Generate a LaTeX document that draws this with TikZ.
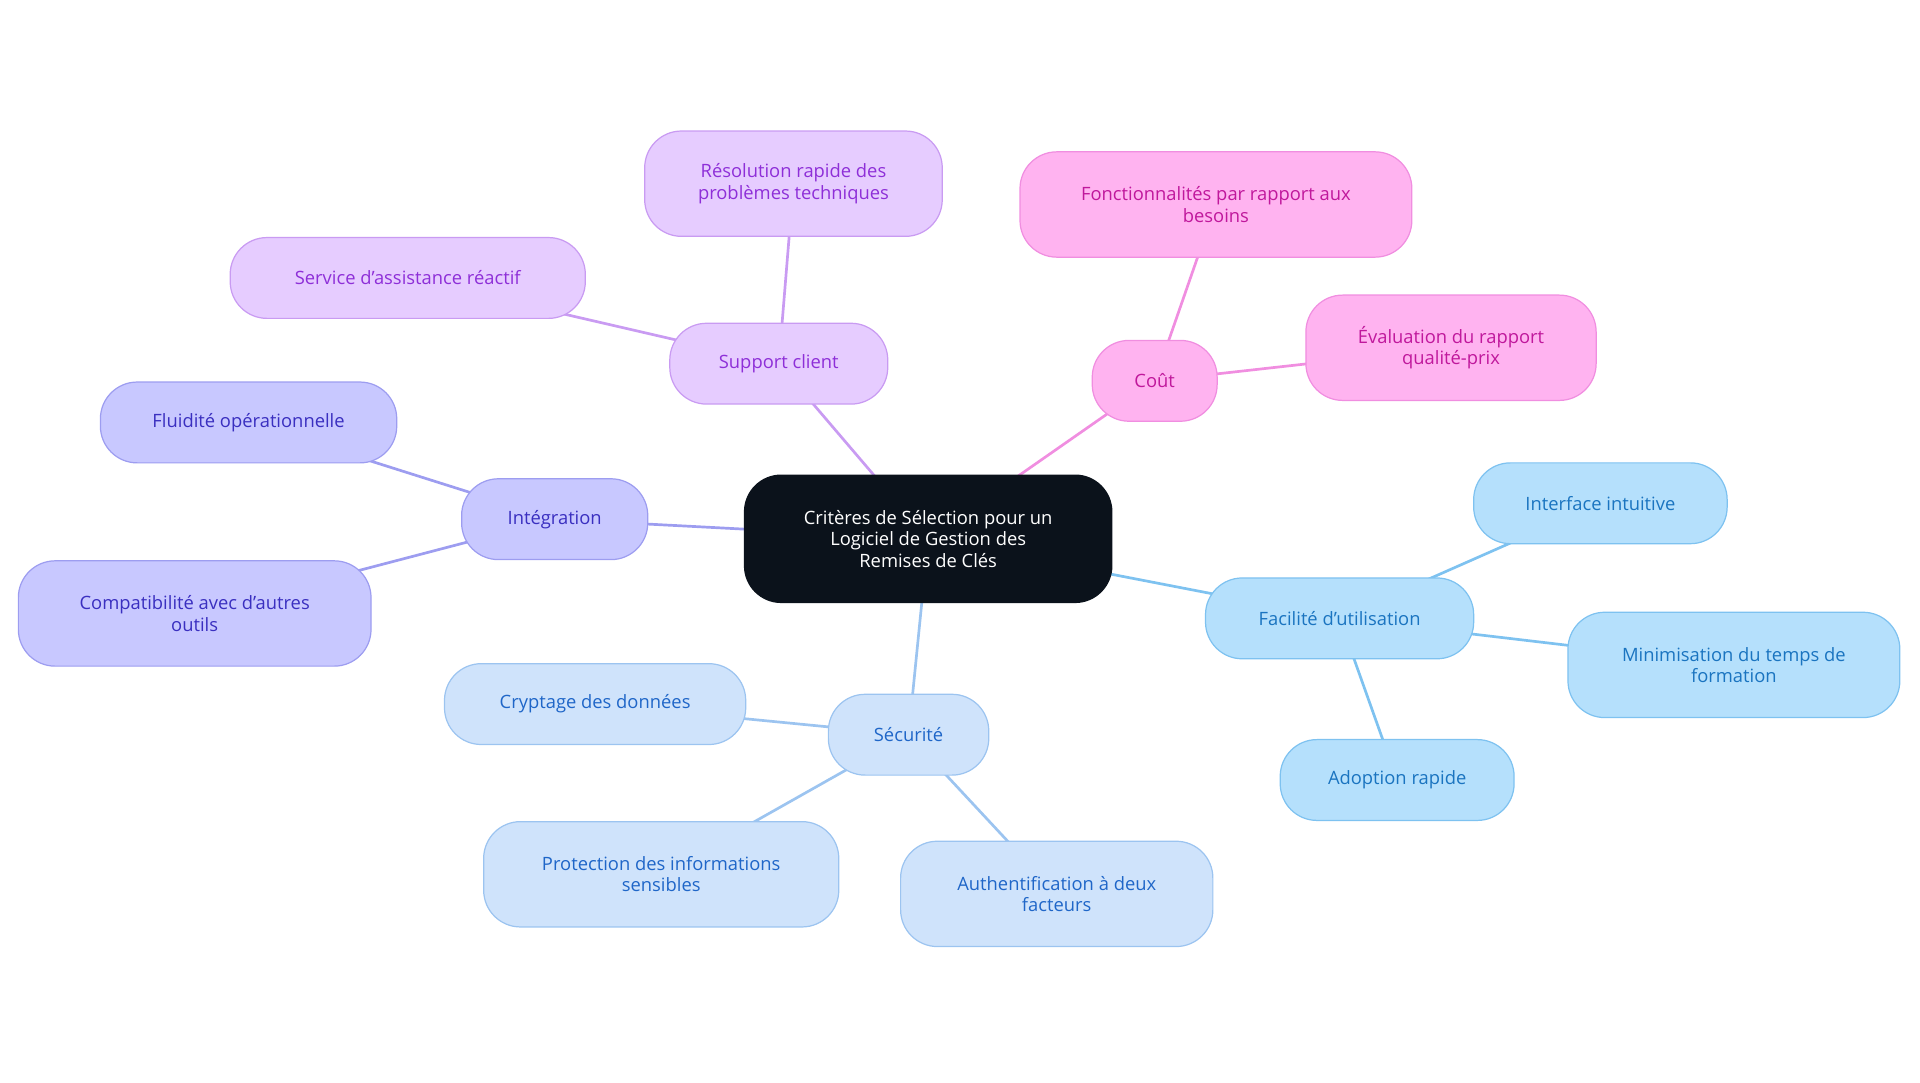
\documentclass[tikz,border=0pt]{standalone}
\usepackage{fontspec}
\setmainfont{Open Sans}
\usetikzlibrary{backgrounds}
\definecolor{pF}{HTML}{E6CCFF}\definecolor{pD}{HTML}{C99BF2}\definecolor{pT}{HTML}{8E2FD8}
\definecolor{kF}{HTML}{FFB3F0}\definecolor{kD}{HTML}{F08EE0}\definecolor{kT}{HTML}{C0189C}
\definecolor{iF}{HTML}{C8C8FF}\definecolor{iD}{HTML}{9D9DF0}\definecolor{iT}{HTML}{3A2FC0}
\definecolor{sF}{HTML}{CFE3FB}\definecolor{sD}{HTML}{9CC4F0}\definecolor{sT}{HTML}{1F66C8}
\definecolor{fF}{HTML}{B5E0FC}\definecolor{fD}{HTML}{7EC2F0}\definecolor{fT}{HTML}{1A74C0}
\definecolor{cF}{HTML}{0B121B}
\begin{document}
\begin{tikzpicture}[x=1pt,y=-1pt,
 box/.style={rounded corners=30pt,draw,line width=1pt,align=center,inner sep=0pt,font=\fontsize{15}{17.5}\selectfont},
 P/.style={box,fill=pF,draw=pD,text=pT},
 K/.style={box,fill=kF,draw=kD,text=kT},
 I/.style={box,fill=iF,draw=iD,text=iT},
 S/.style={box,fill=sF,draw=sD,text=sT},
 F/.style={box,fill=fF,draw=fD,text=fT},
 e/.style={line width=2.2pt}]
\useasboundingbox (0,0) rectangle (1568,884);
\node[box,fill=cF,draw=cF,text=white,minimum width=300pt,minimum height=104pt] (c) at (758,440) {Critères de Sélection pour un\\Logiciel de Gestion des\\Remises de Clés};
\node[P,minimum width=178pt,minimum height=66pt] (sc) at (636,297) {Support client};
\node[P,minimum width=243pt,minimum height=86pt] (rr) at (648,150) {Résolution rapide des\\problèmes techniques};
\node[P,minimum width=290pt,minimum height=66pt] (sa) at (333,227) {Service d'assistance réactif};
\node[K,minimum width=102pt,minimum height=66pt] (co) at (943,311) {Coût};
\node[K,minimum width=320pt,minimum height=86pt] (fo) at (993,167) {Fonctionnalités par rapport aux\\besoins};
\node[K,minimum width=237pt,minimum height=86pt] (ev) at (1185,284) {Évaluation du rapport\\qualité-prix};
\node[I,minimum width=152pt,minimum height=66pt] (in) at (453,424) {Intégration};
\node[I,minimum width=242pt,minimum height=66pt] (fl) at (203,345) {Fluidité opérationnelle};
\node[I,minimum width=288pt,minimum height=86pt] (cp) at (159,501) {Compatibilité avec d'autres\\outils};
\node[S,minimum width=131pt,minimum height=66pt] (se) at (742,600) {Sécurité};
\node[S,minimum width=246pt,minimum height=66pt] (cr) at (486,575) {Cryptage des données};
\node[S,minimum width=290pt,minimum height=86pt] (pr) at (540,714) {Protection des informations\\sensibles};
\node[S,minimum width=255pt,minimum height=86pt] (au) at (863,730) {Authentification à deux\\facteurs};
\node[F,minimum width=219pt,minimum height=66pt] (fa) at (1094,505) {Facilité d'utilisation};
\node[F,minimum width=207pt,minimum height=66pt] (it) at (1307,411) {Interface intuitive};
\node[F,minimum width=271pt,minimum height=86pt] (mi) at (1416,543) {Minimisation du temps de\\formation};
\node[F,minimum width=191pt,minimum height=66pt] (ad) at (1141,637) {Adoption rapide};
\begin{pgfonlayer}{background}
\draw[e,pD] (c.center) -- (sc.center) (sc.center) -- (rr.center) (sc.center) -- (sa.center);
\draw[e,kD] (c.center) -- (co.center) (co.center) -- (fo.center) (co.center) -- (ev.center);
\draw[e,iD] (c.center) -- (in.center) (in.center) -- (fl.center) (in.center) -- (cp.center);
\draw[e,sD] (c.center) -- (se.center) (se.center) -- (cr.center) (se.center) -- (pr.center) (se.center) -- (au.center);
\draw[e,fD] (c.center) -- (fa.center) (fa.center) -- (it.center) (fa.center) -- (mi.center) (fa.center) -- (ad.center);
\end{pgfonlayer}
\end{tikzpicture}
\end{document}
